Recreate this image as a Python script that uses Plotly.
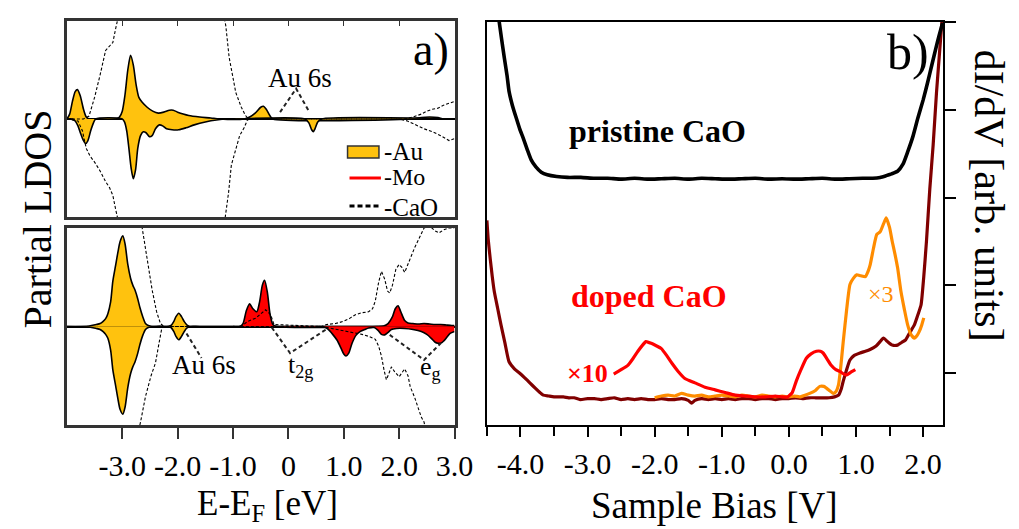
import plotly.graph_objects as go

W, H = 1019, 529
def px(x): return x / W
def py(y): return 1 - y / H

SERIF = "Liberation Serif, Times New Roman, serif"
YEL = "#FFC20E"; RED = "#FF0000"; DRED = "#800000"; ORA = "#FF8C00"

# ---------------- Panel a, top: Au on pristine-like site ----------------
au_top_up_E = [-4.0,-3.95,-3.9,-3.85,-3.81,-3.76,-3.7,-3.65,-3.6,-3.4,-3.2,-3.1,-3.05,-3.0,-2.95,-2.9,-2.85,-2.8,-2.75,-2.7,-2.64,-2.55,-2.45,-2.35,-2.25,-2.15,-2.08,-2.0,-1.9,-1.8,-1.6,-1.4,-1.25,-0.8,-0.7,-0.6,-0.5,-0.45,-0.4,-0.33,-0.28,2.2,2.4,2.55,2.7,2.8,3.0]
au_top_up_v = [0,0.05,0.18,0.28,0.30,0.24,0.10,0.02,0,0,0,0,0.02,0.08,0.25,0.50,0.65,0.55,0.35,0.22,0.17,0.12,0.08,0.06,0.07,0.09,0.09,0.07,0.05,0.035,0.02,0.01,0,0,0.02,0.06,0.12,0.13,0.10,0.03,0,0,0.015,0.02,0.015,0,0]
au_top_dn_E = [-4.0,-3.9,-3.85,-3.8,-3.75,-3.7,-3.66,-3.62,-3.57,-3.52,-3.48,-3.0,-2.96,-2.92,-2.88,-2.84,-2.8,-2.76,-2.72,-2.67,-2.62,-2.57,-2.51,-2.46,-2.4,-2.33,-2.27,-2.2,-2.1,-1.98,-1.85,-1.7,-1.5,-1.3,-1.1,-1.0,0.3,0.37,0.42,0.45,0.48,0.53,0.6,3.0]
au_top_dn_v = [0,0,-0.02,-0.07,-0.15,-0.22,-0.25,-0.22,-0.12,-0.04,0,0,-0.03,-0.12,-0.30,-0.50,-0.61,-0.52,-0.30,-0.17,-0.13,-0.14,-0.18,-0.17,-0.10,-0.06,-0.07,-0.10,-0.11,-0.11,-0.09,-0.06,-0.03,-0.01,0,0,0,-0.04,-0.11,-0.13,-0.10,-0.03,0,0]
cao_top_up_E = [-4.0,-3.7,-3.6,-3.5,-3.4,-3.3,-3.22,-3.17,-3.12,-3.06,-2.5,-1.5,-1.18,-1.13,-1.07,-1.0,-0.95,-0.85,-0.78,-0.72,2.1,2.25,2.4,2.5,2.6,2.7,2.8,2.9,3.0]
cao_top_up_v = [0.0,0.0,0.03,0.22,0.45,0.70,0.75,0.78,0.92,1.1,2.5,2.5,1.1,0.95,0.63,0.42,0.27,0.12,0.04,0.0,0.0,0.02,0.05,0.08,0.10,0.11,0.14,0.16,0.18]
cao_top_dn_E = [-4.0,-3.8,-3.72,-3.65,-3.58,-3.5,-3.4,-3.3,-3.23,-3.17,-3.12,-3.06,-2.5,-1.5,-1.15,-1.08,-1.03,-0.95,-0.88,-0.8,-0.74,-0.7,2.0,2.15,2.3,2.45,2.6,2.75,2.9,3.0]
cao_top_dn_v = [0,-0.02,-0.12,-0.30,-0.38,-0.44,-0.53,-0.64,-0.70,-0.78,-0.92,-1.1,-2.5,-2.5,-1.05,-0.75,-0.47,-0.30,-0.17,-0.09,-0.01,0,0,-0.02,-0.06,-0.10,-0.13,-0.17,-0.22,-0.20]

# ---------------- Panel a, bottom: Au/Mo in doped CaO ----------------
au_bot_E = [-4.0,-3.6,-3.47,-3.4,-3.35,-3.3,-3.26,-3.21,-3.17,-3.12,-3.08,-3.04,-2.99,-2.95,-2.9,-2.85,-2.81,-2.77,-2.72,-2.68,-2.63,-2.58,-2.53,-2.45,-2.2,-2.12,-2.07,-2.03,-1.98,-1.93,-1.88,-1.83,-1.77,-1.6,3.0]
au_bot_up = [0,0.005,0.02,0.03,0.05,0.08,0.13,0.25,0.46,0.62,0.75,0.86,0.92,0.84,0.63,0.49,0.42,0.37,0.28,0.19,0.10,0.03,0.01,0,0,0.01,0.05,0.10,0.135,0.10,0.05,0.015,0,0,0]
au_bot_dn = [0,-0.005,-0.02,-0.03,-0.05,-0.08,-0.12,-0.24,-0.44,-0.60,-0.73,-0.84,-0.89,-0.82,-0.62,-0.48,-0.41,-0.36,-0.27,-0.18,-0.09,-0.03,-0.01,0,0,-0.01,-0.05,-0.10,-0.135,-0.10,-0.05,-0.015,0,0,0]
mo_up_E = [-1.0,-0.88,-0.82,-0.76,-0.70,-0.64,-0.57,-0.52,-0.47,-0.43,-0.38,-0.33,-0.28,-0.22,1.6,1.72,1.8,1.88,1.93,1.98,2.03,2.1,2.16,2.25,2.35,2.45,2.55,2.65,2.75,2.85,2.95,3.0]
mo_up_v = [0,0,0.03,0.16,0.23,0.18,0.15,0.25,0.42,0.47,0.35,0.12,0.02,0,0,0.005,0.03,0.10,0.18,0.21,0.15,0.06,0.035,0.03,0.025,0.03,0.025,0.02,0.02,0.015,0.01,0.01]
mo_dn_E = [0.55,0.65,0.72,0.8,0.88,0.95,1.0,1.04,1.09,1.15,1.22,1.3,1.38,1.45,1.55,1.62,1.68,1.74,1.8,1.86,1.95,2.1,2.25,2.4,2.5,2.58,2.65,2.7,2.75,2.8,2.86,2.92,3.0]
mo_dn_v = [0,-0.005,-0.03,-0.08,-0.14,-0.22,-0.28,-0.30,-0.27,-0.17,-0.09,-0.05,-0.03,-0.015,-0.01,-0.04,-0.08,-0.085,-0.06,-0.03,-0.02,-0.02,-0.03,-0.05,-0.08,-0.12,-0.16,-0.17,-0.17,-0.15,-0.11,-0.07,-0.05]
cao_bot_up_E = [-4.0,-2.7,-2.64,-2.55,-2.46,-2.38,-2.31,-2.25,-0.85,-0.74,-0.59,-0.41,-0.32,-0.26,0.6,0.69,0.85,0.98,1.1,1.21,1.33,1.45,1.52,1.57,1.63,1.68,1.74,1.79,1.83,1.88,1.94,2.0,2.05,2.1,2.15,2.2,2.28,2.34,2.4,2.45,2.55,2.65,2.72,2.8,2.9,3.0]
cao_bot_up_v = [2.5,1.2,1.0,0.7,0.37,0.15,0.03,0.0,0.0,0.05,0.085,0.17,0.12,0.02,0.0,0.02,0.03,0.05,0.08,0.12,0.14,0.15,0.18,0.26,0.45,0.56,0.48,0.36,0.34,0.42,0.58,0.63,0.6,0.55,0.62,0.70,0.80,0.87,0.94,1.0,1.02,0.97,0.95,0.98,1.0,1.0]
cao_bot_dn_E = [-4.0,-2.72,-2.67,-2.58,-2.48,-2.40,-2.33,-2.28,0.6,0.98,1.15,1.33,1.45,1.57,1.63,1.68,1.73,1.77,1.82,1.86,1.92,2.0,2.05,2.1,2.16,2.2,2.28,2.34,2.4,2.45,2.5,3.0]
cao_bot_dn_v = [-2.5,-1.1,-0.97,-0.71,-0.5,-0.37,-0.15,0.0,0.0,-0.04,-0.06,-0.08,-0.10,-0.13,-0.2,-0.30,-0.45,-0.54,-0.47,-0.41,-0.46,-0.51,-0.47,-0.43,-0.5,-0.61,-0.72,-0.82,-0.92,-0.97,-1.1,-2.5]

# ---------------- Panel b: STS dI/dV ----------------
pristine_V = [-4.32,-4.28,-4.24,-4.2,-4.17,-4.12,-4.06,-4.01,-3.96,-3.9,-3.84,-3.77,-3.69,-3.6,-3.46,-3.3,-3.1,-2.9,-2.7,-2.5,-2.3,-2.1,-1.9,-1.7,-1.5,-1.3,-1.1,-0.9,-0.7,-0.5,-0.3,-0.1,0.1,0.3,0.5,0.7,0.9,1.1,1.25,1.36,1.45,1.53,1.62,1.7,1.77,1.85,1.92,2.0,2.07,2.13,2.19,2.24,2.29]
pristine_v = [4.02,3.80,3.59,3.39,3.21,3.05,2.90,2.78,2.68,2.55,2.43,2.35,2.29,2.26,2.24,2.23,2.23,2.22,2.22,2.21,2.22,2.21,2.215,2.22,2.21,2.22,2.215,2.21,2.215,2.22,2.21,2.215,2.21,2.215,2.22,2.21,2.215,2.22,2.22,2.23,2.25,2.27,2.30,2.38,2.52,2.70,2.90,3.11,3.32,3.51,3.70,3.85,3.99]
doped_V = [-4.5,-4.48,-4.45,-4.42,-4.39,-4.34,-4.29,-4.23,-4.17,-4.09,-4.01,-3.94,-3.86,-3.78,-3.71,-3.66,-3.58,-3.5,-3.42,-3.36,-3.28,-3.2,-3.11,-3.0,-2.9,-2.8,-2.7,-2.6,-2.5,-2.4,-2.3,-2.2,-2.1,-2.0,-1.9,-1.8,-1.7,-1.6,-1.5,-1.45,-1.4,-1.3,-1.2,-1.1,-1.0,-0.9,-0.8,-0.7,-0.6,-0.5,-0.4,-0.3,-0.2,-0.1,0.0,0.1,0.2,0.3,0.4,0.5,0.6,0.68,0.74,0.78,0.81,0.86,0.91,0.97,1.06,1.14,1.21,1.3,1.36,1.41,1.47,1.54,1.62,1.68,1.74,1.8,1.87,1.92,1.97,2.01,2.05,2.1,2.15,2.2,2.24,2.28]
doped_v = [1.74,1.52,1.30,1.10,0.93,0.74,0.55,0.34,0.13,0.05,0.0,-0.05,-0.11,-0.17,-0.22,-0.25,-0.26,-0.27,-0.27,-0.27,-0.28,-0.28,-0.30,-0.29,-0.29,-0.30,-0.29,-0.28,-0.30,-0.29,-0.30,-0.29,-0.30,-0.30,-0.29,-0.30,-0.30,-0.29,-0.31,-0.34,-0.31,-0.29,-0.30,-0.29,-0.30,-0.29,-0.30,-0.29,-0.29,-0.30,-0.29,-0.29,-0.30,-0.29,-0.29,-0.28,-0.29,-0.28,-0.28,-0.28,-0.28,-0.27,-0.25,-0.18,-0.09,0.04,0.15,0.20,0.23,0.25,0.27,0.31,0.36,0.40,0.36,0.32,0.32,0.35,0.38,0.46,0.55,0.66,0.78,1.1,1.5,2.1,2.6,3.2,3.6,4.0]
x10_V = [-2.61,-2.5,-2.4,-2.32,-2.25,-2.18,-2.13,-2.05,-1.97,-1.9,-1.82,-1.74,-1.65,-1.55,-1.4,-1.25,-1.1,-0.95,-0.8,-0.65,-0.5,-0.35,-0.2,-0.1,-0.02,0.05,0.11,0.18,0.26,0.33,0.41,0.47,0.51,0.57,0.63,0.7,0.76,0.82,0.86,0.92,0.99]
x10_v = [-0.01,0.04,0.09,0.17,0.25,0.32,0.36,0.34,0.31,0.28,0.20,0.11,0.02,-0.06,-0.11,-0.16,-0.19,-0.22,-0.25,-0.26,-0.27,-0.27,-0.26,-0.27,-0.27,-0.22,-0.09,0.04,0.17,0.22,0.25,0.25,0.23,0.16,0.09,0.04,0.02,-0.01,-0.02,0.01,0.04]
x3_V = [-2.0,-1.9,-1.8,-1.7,-1.6,-1.5,-1.4,-1.3,-1.2,-1.1,-1.0,-0.9,-0.8,-0.7,-0.6,-0.5,-0.4,-0.3,-0.2,-0.1,0.0,0.08,0.16,0.24,0.31,0.39,0.46,0.52,0.56,0.61,0.66,0.7,0.74,0.77,0.81,0.86,0.91,0.96,1.01,1.07,1.14,1.18,1.21,1.26,1.31,1.36,1.41,1.45,1.5,1.54,1.58,1.62,1.67,1.72,1.77,1.82,1.87,1.91,1.94,1.98,2.01]
x3_v = [-0.28,-0.26,-0.25,-0.26,-0.23,-0.25,-0.26,-0.25,-0.27,-0.26,-0.25,-0.26,-0.27,-0.25,-0.26,-0.27,-0.25,-0.26,-0.27,-0.26,-0.27,-0.26,-0.27,-0.25,-0.23,-0.20,-0.15,-0.15,-0.17,-0.20,-0.23,-0.21,-0.13,0.05,0.36,0.72,1.01,1.08,1.12,1.11,1.10,1.16,1.23,1.42,1.58,1.61,1.70,1.77,1.66,1.50,1.36,1.20,0.93,0.73,0.55,0.44,0.40,0.43,0.47,0.55,0.63]

a_ticks = [-3, -2, -1, 0, 1, 2, 3]
a_ticktext = ["-3.0", "-2.0", "-1.0", "0", "1.0", "2.0", "3.0"]
b_ticks = [-4, -3, -2, -1, 0, 1, 2]
b_ticktext = ["-4.0", "-3.0", "-2.0", "-1.0", "0.0", "1.0", "2.0"]
b_minor = [-4.5, -3.5, -2.5, -1.5, -0.5, 0.5, 1.5]

fig = go.Figure()

def filled(x, y, color, xa, ya):
    fig.add_trace(go.Scatter(x=x, y=y, mode="lines", fill="tozeroy", fillcolor=color,
                             line=dict(color="black", width=1.6, shape="spline", smoothing=0.7),
                             xaxis=xa, yaxis=ya, showlegend=False, hoverinfo="skip"))

def dotted(x, y, xa, ya):
    fig.add_trace(go.Scatter(x=x, y=y, mode="lines",
                             line=dict(color="black", width=1.1, dash="3px,2px"),
                             xaxis=xa, yaxis=ya, showlegend=False, hoverinfo="skip"))

def sts(x, y, color, w=3.2):
    fig.add_trace(go.Scatter(x=x, y=y, mode="lines",
                             line=dict(color=color, width=w, shape="spline", smoothing=0.5),
                             xaxis="x3", yaxis="y3", showlegend=False, hoverinfo="skip"))

filled(au_top_up_E, au_top_up_v, YEL, "x", "y")
filled(au_top_dn_E, au_top_dn_v, YEL, "x", "y")
dotted(cao_top_up_E, cao_top_up_v, "x", "y")
dotted(cao_top_dn_E, cao_top_dn_v, "x", "y")

filled(au_bot_E, au_bot_up, YEL, "x2", "y2")
filled(au_bot_E, au_bot_dn, YEL, "x2", "y2")
filled(mo_up_E, mo_up_v, RED, "x2", "y2")
filled(mo_dn_E, mo_dn_v, RED, "x2", "y2")
dotted(cao_bot_up_E, cao_bot_up_v, "x2", "y2")
dotted(cao_bot_dn_E, cao_bot_dn_v, "x2", "y2")

sts(doped_V, doped_v, DRED)
sts(x3_V, x3_v, ORA)
sts(x10_V, x10_v, RED)
sts(pristine_V, pristine_v, "black", 3.6)

frame_a = dict(showline=True, linecolor="#333333", linewidth=2.6, mirror=True, showgrid=False)
yfr_a = dict(frame_a, range=[-1, 1], showticklabels=False, ticks="", zeroline=True,
             zerolinecolor="black", zerolinewidth=2)

fig.update_layout(
    width=W, height=H, margin=dict(l=0, r=0, t=0, b=0),
    paper_bgcolor="white", plot_bgcolor="white", showlegend=False,
    font=dict(family=SERIF, color="black"),
    xaxis=dict(frame_a, domain=[px(60), px(455)], range=[-4, 3], anchor="y", side="top",
               ticks="inside", ticklen=5, tickwidth=1.3, tickcolor="#333333",
               tickvals=a_ticks, showticklabels=False, zeroline=False),
    yaxis=dict(yfr_a, domain=[py(209), py(13)], anchor="x"),
    xaxis2=dict(frame_a, domain=[px(60), px(455)], range=[-4, 3], anchor="y2",
                ticks="outside", ticklen=11, tickwidth=1.5, tickcolor="#333333",
                tickvals=a_ticks, ticktext=a_ticktext, zeroline=False,
                tickfont=dict(family=SERIF, size=30, color="black"), ticklabelstandoff=1),
    yaxis2=dict(yfr_a, domain=[py(417), py(220)], anchor="x2"),
    xaxis3=dict(domain=[px(488), px(953)], range=[-4.5, 2.3], anchor="y3",
                showline=True, linecolor="black", linewidth=1.6, mirror=True, showgrid=False,
                zeroline=False, ticks="outside", ticklen=10, tickwidth=1.5, tickcolor="black",
                tickvals=b_ticks, ticktext=b_ticktext,
                minor=dict(tickvals=b_minor, ticks="outside", ticklen=9, tickwidth=1.5, tickcolor="black"),
                tickfont=dict(family=SERIF, size=30, color="black"), ticklabelstandoff=1),
    yaxis3=dict(domain=[py(417), py(14)], range=[-0.59, 4.0], anchor="x3", side="right",
                showline=True, linecolor="black", linewidth=1.6, mirror=True, showgrid=False,
                zeroline=False, ticks="outside", ticklen=11, tickwidth=1.5, tickcolor="black",
                tickvals=[0, 1, 2, 3, 4], showticklabels=False),
)

# annotation guide lines (dashed) in data coordinates
guides = [
    ("x", "y", "M -0.15,0.07 L 0.14,0.31 L 0.38,0.07"),
    ("x2", "y2", "M -1.84,-0.07 L -1.57,-0.32"),
    ("x2", "y2", "M -0.30,-0.01 L 0.03,-0.27 L 0.68,-0.03"),
    ("x2", "y2", "M 1.83,-0.085 L 2.45,-0.34 L 2.75,-0.17"),
]
for xr, yr, path in guides:
    fig.add_shape(type="path", path=path, xref=xr, yref=yr,
                  line=dict(color="#222222", width=2, dash="4px,3px"))

# legend drawn in panel a (paper coordinates)
fig.add_shape(type="rect", xref="paper", yref="paper", x0=px(346), x1=px(378), y0=py(150), y1=py(138),
              fillcolor=YEL, line=dict(color="#333333", width=1.5))
fig.add_shape(type="line", xref="paper", yref="paper", x0=px(348), x1=px(380), y0=py(170), y1=py(170),
              line=dict(color=RED, width=3))
fig.add_shape(type="line", xref="paper", yref="paper", x0=px(348), x1=px(380), y0=py(198), y1=py(198),
              line=dict(color="black", width=3, dash="5px,3px"))

def text(x, y, s, size, color="black", xanchor="center", angle=0, bold=False, pad=1):
    if bold:
        s = "<b>" + s + "</b>"
    fig.add_annotation(x=px(x), y=py(y), xref="paper", yref="paper", text=s, showarrow=False,
                       xanchor=xanchor, yanchor="middle", textangle=angle, borderpad=pad,
                       font=dict(family=SERIF, size=size, color=color))

text(382, 143, "-Au", 25, xanchor="left", pad=0)
text(382, 169, "-Mo", 24, xanchor="left", pad=0)
text(382, 199, "-CaO", 25, xanchor="left", pad=0)
text(298, 70, "Au 6s", 27)
text(200, 357, "Au 6s", 27)
text(283, 358, "t<sub>2g</sub>", 26, xanchor="left")
text(418, 360, "e<sub>g</sub>", 26, xanchor="left")
text(431, 42, "a)", 46)
text(917, 44, "b)", 50)
text(662, 123, "pristine CaO", 32, bold=True)
text(653, 288, "doped CaO", 32, color=RED, bold=True)
text(591, 366, "×10", 26, color=RED, bold=True)
text(890, 286, "×3", 24, color=ORA)
text(30, 211, "Partial LDOS", 40, angle=-90)
text(1000, 188, "dI/dV [arb. units]", 42, angle=90)
text(264, 497, "E-E<sub>F</sub> [eV]", 35, pad=0)
text(720, 497, "Sample Bias [V]", 37, pad=0)

fig.write_html("out.html")
